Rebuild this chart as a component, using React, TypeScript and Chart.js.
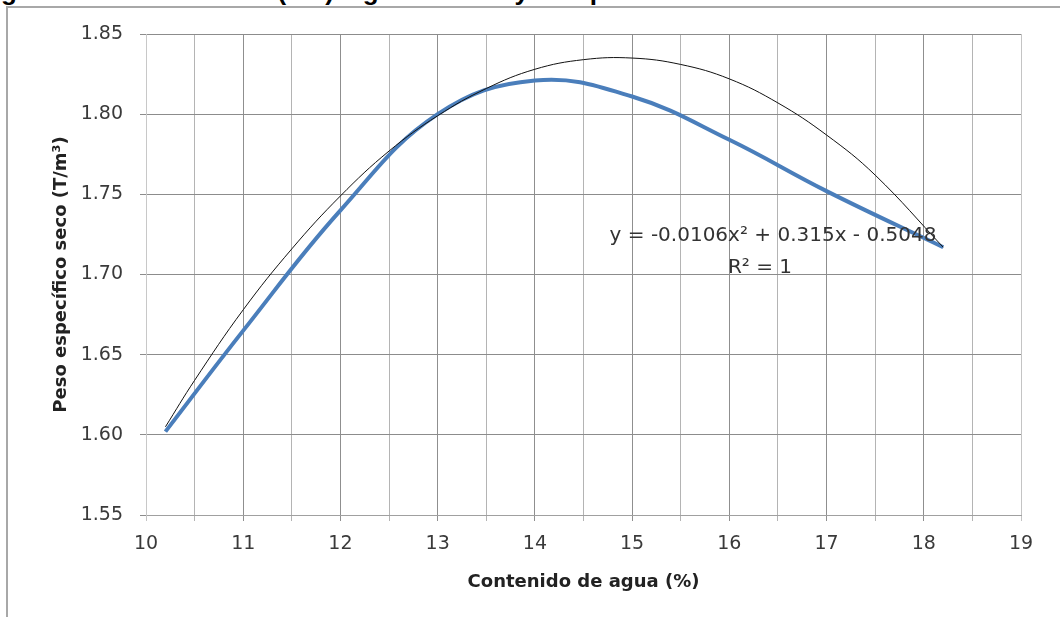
import React, { useEffect, useRef } from "react";
import { Chart, registerables } from "chart.js";

Chart.register(...registerables);

// Measured points (contenido de agua %, peso específico seco T/m³)
const waterContent = [10.2, 11, 12, 13, 14, 15, 16, 17, 18.2];
const dryUnitWeight = [1.602, 1.665, 1.74, 1.8, 1.821, 1.811, 1.784, 1.752, 1.717];

// Polynomial trendline
const trendWater = [10.2, 10.5, 11, 11.5, 12, 12.5, 13, 13.5, 14, 14.5, 15, 15.5, 16, 16.5, 17, 17.5, 18.2];
const trendWeight = [1.605, 1.634, 1.678, 1.716, 1.749, 1.777, 1.799, 1.816, 1.828, 1.834, 1.835, 1.831, 1.822, 1.807, 1.787, 1.762, 1.717];

const xMin = 10;
const xMax = 19;
const yMin = 1.55;
const yMax = 1.85;

const equationText = "y = -0.0106x² + 0.315x - 0.5048";
const r2Text = "R² = 1";
const xTitle = "Contenido de agua (%)";
const yTitle = "Peso específico seco (T/m³)";
const figureTitle = "Figura 36. Arena limosa (SM) – gráfica ensayo de proctor modificado";

const FONT = '"DejaVu Sans", sans-serif';

const equationPlugin = {
  id: "equationLabel",
  afterDatasetsDraw(chart: any) {
    const { ctx, chartArea } = chart;
    ctx.save();
    ctx.font = `20px ${FONT}`;
    ctx.fillStyle = "#333333";
    ctx.textAlign = "center";
    ctx.textBaseline = "middle";
    ctx.fillText(equationText, chartArea.left + 627, chartArea.top + 202);
    ctx.fillText(r2Text, chartArea.left + 614, chartArea.top + 234);
    ctx.restore();
  },
};

export default function App() {
  const canvasRef = useRef<HTMLCanvasElement | null>(null);

  useEffect(() => {
    if (!canvasRef.current) return;
    const chart = new Chart(canvasRef.current, {
      type: "line",
      data: {
        datasets: [
          {
            label: "Polinómica",
            data: trendWater.map((x, i) => ({ x, y: trendWeight[i] })),
            borderColor: "#111111",
            borderWidth: 1,
            pointRadius: 0,
            tension: 0.4,
            fill: false,
            order: 0,
          },
          {
            label: "Peso específico seco",
            data: waterContent.map((x, i) => ({ x, y: dryUnitWeight[i] })),
            borderColor: "#4a7ebb",
            borderWidth: 4,
            pointRadius: 0,
            tension: 0.4,
            fill: false,
            order: 1,
          },
        ],
      },
      options: {
        responsive: false,
        animation: false,
        layout: { padding: { top: 34, right: 39, left: 0, bottom: 0 } },
        plugins: {
          legend: { display: false },
          tooltip: { enabled: false },
          title: { display: false },
        },
        scales: {
          x: {
            type: "linear",
            min: xMin,
            max: xMax,
            afterFit(scale: any) {
              scale.height = 102;
            },
            ticks: {
              stepSize: 0.5,
              autoSkip: false,
              maxRotation: 0,
              padding: 12,
              color: "#3a3a3a",
              font: { family: FONT, size: 19 },
              callback: (v: any) => (Number.isInteger(Number(v)) ? String(v) : ""),
            },
            grid: {
              color: (c: any) => {
                const v = c.tick ? c.tick.value : 0;
                if (v === xMin || v === xMax) return "#c4c4c4";
                return Number.isInteger(v) ? "#8f8f8f" : "#b4b4b4";
              },
              lineWidth: 1,
              tickLength: 6,
            },
            border: { color: "#a0a0a0" },
            title: {
              display: true,
              text: xTitle,
              color: "#222222",
              font: { family: FONT, size: 18, weight: "bold" },
              padding: { top: 0, bottom: 24 },
            },
          },
          y: {
            type: "linear",
            min: yMin,
            max: yMax,
            afterFit(scale: any) {
              scale.width = 146;
            },
            ticks: {
              stepSize: 0.05,
              padding: 17,
              color: "#3a3a3a",
              font: { family: FONT, size: 19 },
              callback: (v: any) => Number(v).toFixed(2),
            },
            grid: {
              color: "#8c8c8c",
              lineWidth: 1,
              tickLength: 6,
            },
            border: { color: "#c8c8c8" },
            title: {
              display: true,
              text: yTitle,
              color: "#222222",
              font: { family: FONT, size: 18, weight: "bold" },
              padding: { top: 51, bottom: 0 },
            },
          },
        },
      },
      plugins: [equationPlugin],
    });
    return () => chart.destroy();
  }, []);

  return (
    <div
      style={{
        position: "fixed",
        left: 0,
        top: 0,
        width: 1060,
        height: 617,
        background: "#ffffff",
        overflow: "hidden",
      }}
    >
      <div
        style={{
          position: "absolute",
          left: -22,
          top: -24,
          whiteSpace: "nowrap",
          font: 'bold 26px "Liberation Sans", Arial, sans-serif',
          color: "#000",
          lineHeight: "30px",
        }}
      >
        {figureTitle}
      </div>
      <div
        style={{
          position: "absolute",
          left: 6,
          top: 6,
          width: 1100,
          height: 700,
          borderLeft: "2px solid #a8a8a8",
          borderTop: "2px solid #a8a8a8",
          boxSizing: "border-box",
        }}
      />
      <canvas
        ref={canvasRef}
        width={1060}
        height={617}
        style={{ position: "absolute", left: 0, top: 0, width: 1060, height: 617 }}
      />
    </div>
  );
}
